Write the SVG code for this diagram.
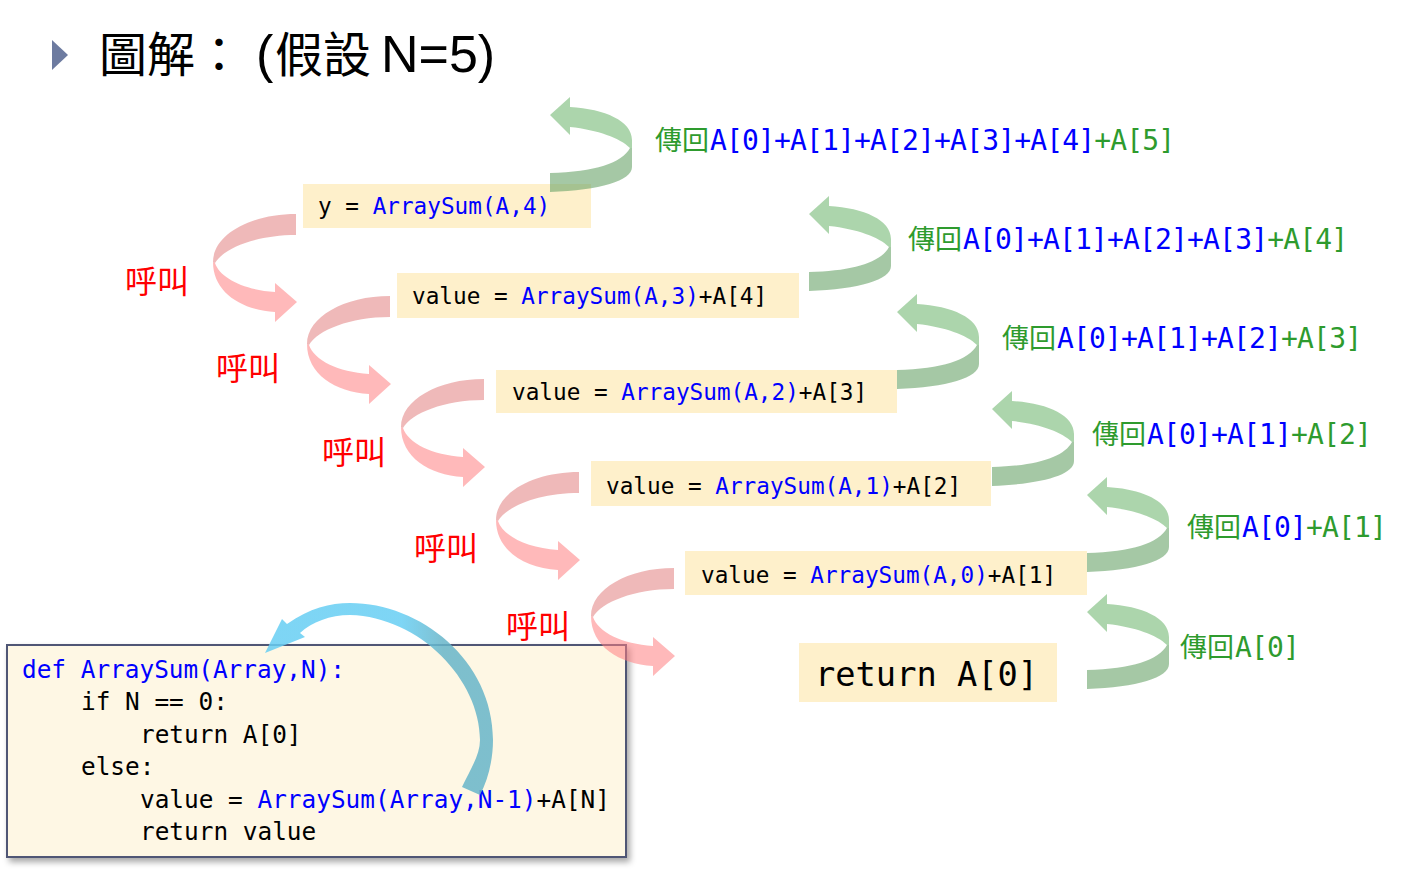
<svg xmlns="http://www.w3.org/2000/svg" xmlns:xlink="http://www.w3.org/1999/xlink" width="1406" height="877" viewBox="0 0 1406 877">
<style>
.mono{font-family:"DejaVu Sans Mono","Liberation Mono",monospace;}
.box{fill:#fef0cb;}
.bt{font-size:22.7px;fill:#000;}
.ct{font-size:24.4px;fill:#000;}
.bl{fill:#0000ff;}
.gr{fill:#2e9b2e;}
.cjk{font-family:"Noto Sans CJK TC","Noto Sans CJK SC",sans-serif;}
.lab{font-size:28px;}
.lm{letter-spacing:-0.85px;}
.call{font-family:"Noto Sans CJK TC","Noto Sans CJK SC",sans-serif;font-size:32px;fill:#ff0000;}
.ru{fill:#e28080;opacity:.55;}
.rl{fill:#ff8082;opacity:.55;}
.gl{fill:#75b975;opacity:.6;}
.gd{fill:#69a369;opacity:.6;}
</style>
<defs>
<g id="redArrow">
<path class="ru" d="M0,0 C-46,0 -83,21 -83,48 L-81,49 C-72,34 -40,21 0,21 Z"/>
<path class="rl" d="M-83,48 C-83,78 -55,96 -21,98 L-21,108 L1,88 L-21,69 L-21,78 C-52,76 -76,64 -81,49 Z"/>
</g>
<g id="greenArrow">
<path class="gl" d="M20,-76 L0,-58 L20,-38 L20,-46 C48,-43 70,-35 80,-25 L82,-25 L82,-33 C82,-52 55,-64 20,-66 Z"/>
<path class="gd" d="M80,-25 L82,-25 L82,-6 C82,8 50,17 0,19 L0,0 C45,-1 72,-10 80,-25 Z"/>
</g>
<linearGradient id="blueGrad" x1="265" y1="0" x2="493" y2="0" gradientUnits="userSpaceOnUse">
<stop offset="0" stop-color="#67cef3"/>
<stop offset="0.6" stop-color="#67cef3"/>
<stop offset="0.78" stop-color="#67b5c9"/>
<stop offset="1" stop-color="#67b5c9"/>
</linearGradient>
<filter id="shadow" x="-5%" y="-5%" width="112%" height="115%">
<feDropShadow dx="3" dy="4" stdDeviation="3" flood-color="#000" flood-opacity="0.35"/>
</filter>
</defs>

<g id="title">
<polygon points="52,40 68,55 52,70" fill="#6d7ba0"/>
<text y="72" font-size="48" fill="#000"><tspan class="cjk" x="99">圖解：</tspan><tspan x="256" font-family="Liberation Sans, sans-serif" font-size="52">(</tspan><tspan class="cjk" x="275">假設</tspan><tspan x="381" font-family="Liberation Sans, sans-serif" font-size="52">N=5)</tspan></text>
</g>

<g id="box1">
<rect class="box" x="303" y="184" width="288" height="44"/>
<text class="mono bt" x="318" y="214">y = <tspan class="bl">ArraySum(A,4)</tspan></text>
</g>
<g id="box2">
<rect class="box" x="397" y="273" width="402" height="45"/>
<text class="mono bt" x="412" y="304">value = <tspan class="bl">ArraySum(A,3)</tspan>+A[4]</text>
</g>
<g id="box3">
<rect class="box" x="496" y="370" width="401" height="43"/>
<text class="mono bt" x="512" y="400">value = <tspan class="bl">ArraySum(A,2)</tspan>+A[3]</text>
</g>
<g id="box4">
<rect class="box" x="591" y="461" width="400" height="45"/>
<text class="mono bt" x="606" y="494">value = <tspan class="bl">ArraySum(A,1)</tspan>+A[2]</text>
</g>
<g id="box5">
<rect class="box" x="685" y="551" width="402" height="44"/>
<text class="mono bt" x="701" y="583">value = <tspan class="bl">ArraySum(A,0)</tspan>+A[1]</text>
</g>
<g id="box6">
<rect class="box" x="799" y="643" width="258" height="59"/>
<text class="mono" x="815" y="686" font-size="33.7px" fill="#000">return A[0]</text>
</g>

<g id="ret1"><text class="lab gr" y="150"><tspan class="cjk" x="655" font-size="27">傳回</tspan><tspan class="mono lm" x="710"><tspan class="bl">A[0]+A[1]+A[2]+A[3]+A[4]</tspan>+A[5]</tspan></text></g>
<g id="ret2"><text class="lab gr" y="249"><tspan class="cjk" x="908" font-size="27">傳回</tspan><tspan class="mono lm" x="963"><tspan class="bl">A[0]+A[1]+A[2]+A[3]</tspan>+A[4]</tspan></text></g>
<g id="ret3"><text class="lab gr" y="348"><tspan class="cjk" x="1002" font-size="27">傳回</tspan><tspan class="mono lm" x="1057"><tspan class="bl">A[0]+A[1]+A[2]</tspan>+A[3]</tspan></text></g>
<g id="ret4"><text class="lab gr" y="444"><tspan class="cjk" x="1092" font-size="27">傳回</tspan><tspan class="mono lm" x="1147"><tspan class="bl">A[0]+A[1]</tspan>+A[2]</tspan></text></g>
<g id="ret5"><text class="lab gr" y="537"><tspan class="cjk" x="1187" font-size="27">傳回</tspan><tspan class="mono lm" x="1242"><tspan class="bl">A[0]</tspan>+A[1]</tspan></text></g>
<g id="ret6"><text class="lab gr" y="657"><tspan class="cjk" x="1180" font-size="27">傳回</tspan><tspan class="mono lm" x="1235">A[0]</tspan></text></g>

<g id="call1"><text class="call" x="125" y="293">呼叫</text></g>
<g id="call2"><text class="call" x="216" y="380">呼叫</text></g>
<g id="call3"><text class="call" x="322" y="464">呼叫</text></g>
<g id="call4"><text class="call" x="414" y="560">呼叫</text></g>
<g id="call5"><text class="call" x="506" y="638">呼叫</text></g>

<g id="code">
<rect x="7" y="645" width="619" height="212" fill="#fef7e4" stroke="#4f5775" stroke-width="2" filter="url(#shadow)"/>
<text class="mono ct" x="22" y="678"><tspan class="bl">def ArraySum(Array,N):</tspan></text>
<text class="mono ct" x="81" y="710">if N == 0:</text>
<text class="mono ct" x="140" y="743">return A[0]</text>
<text class="mono ct" x="81" y="775">else:</text>
<text class="mono ct" x="140" y="808">value = <tspan class="bl">ArraySum(Array,N-1)</tspan>+A[N]</text>
<text class="mono ct" x="140" y="840">return value</text>
</g>

<g id="connectors">
<use xlink:href="#redArrow" transform="translate(296,214)"/>
<use xlink:href="#redArrow" transform="translate(390,296)"/>
<use xlink:href="#redArrow" transform="translate(484,379)"/>
<use xlink:href="#redArrow" transform="translate(579,472)"/>
<use xlink:href="#redArrow" transform="translate(674,568)"/>
<use xlink:href="#greenArrow" transform="translate(550,173)"/>
<use xlink:href="#greenArrow" transform="translate(809,272)"/>
<use xlink:href="#greenArrow" transform="translate(897,370)"/>
<use xlink:href="#greenArrow" transform="translate(992,467)"/>
<use xlink:href="#greenArrow" transform="translate(1087,553)"/>
<use xlink:href="#greenArrow" transform="translate(1087,670)"/>
<path d="M265,653 L282,619 L287,624 C310,608 330,603 350,603 C420,603 493,660 493,740 C493,760 488,780 480,795 L462,787 C470,770 480,755 480,740 C480,680 420,617 350,615 C330,615 312,622 300,633 L305,637 Z" fill="url(#blueGrad)" opacity="0.85"/>
</g>
</svg>
